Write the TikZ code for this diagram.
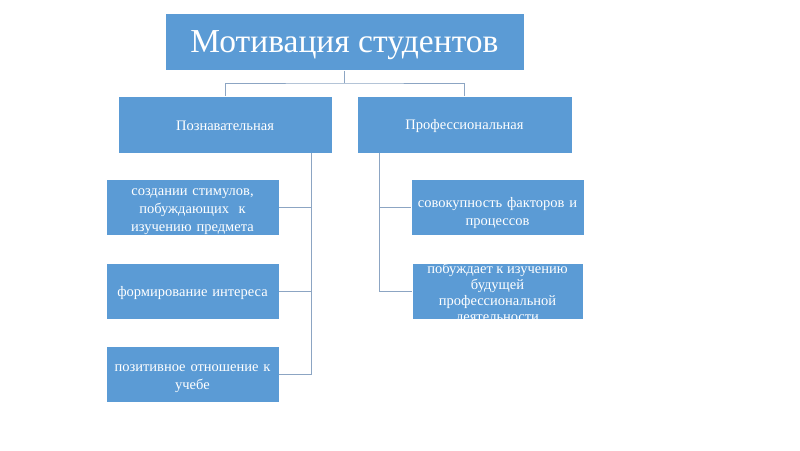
\documentclass[tikz,border=0pt]{standalone}
\usepackage{fontspec}
\setmainfont{Liberation Serif}
\newcommand{\pushdown}[1]{\rule{0pt}{#1}}
\begin{document}
\begin{tikzpicture}[x=1pt,y=-1pt,
  box/.style={draw=white, line width=0.8pt, fill=boxblue, text=white, align=center, inner sep=2pt},
  conn/.style={draw=linegray, line width=1pt}]
\definecolor{boxblue}{RGB}{91,155,213}
\definecolor{linegray}{RGB}{140,165,195}
\useasboundingbox (0,0) rectangle (800,450);
\fill[white] (0,0) rectangle (800,450);
\node[box, minimum width=359pt, minimum height=57pt, font=\fontsize{33.5}{38}\selectfont] (top) at (344.5,42) {\pushdown{29pt}Мотивация студентов};
\node[box, minimum width=214pt, minimum height=57pt, font=\fontsize{14.5}{17}\selectfont] (p1) at (225,124.5) {\pushdown{13pt}Познавательная};
\node[box, minimum width=215pt, minimum height=57pt, font=\fontsize{14.5}{17}\selectfont] (p2) at (464.5,124.5) {\pushdown{13pt}Профессиональная};
\begin{scope}[every node/.style={box, minimum width=171pt, minimum height=56pt, text width=169pt, font=\fontsize{14.5}{18}\selectfont}]
\node[inner ysep=0pt] (a1) at (192.5,207.5) {\pushdown{16pt}создании стимулов,\\ побуждающих\ \ к\\ изучению предмета};
\node (a2) at (192.5,291) {\pushdown{15pt}формирование интереса};
\node (a3) at (192.5,374) {\pushdown{17pt}позитивное отношение к\\ учебе};
\node (b1) at (497.5,207.5) {\pushdown{22pt}совокупность факторов и\\ процессов};
\end{scope}
\node[box, minimum width=171pt, minimum height=56pt] (b2) at (497.5,291) {};
\begin{scope}
\clip (b2.south west) rectangle (b2.north east);
\node[text=white, align=center, font=\fontsize{14.5}{16}\selectfont, inner sep=0pt] (b2t) at (497.5,293.5) {побуждает к изучению\\ будущей\\ профессиональной\\ деятельности};
\end{scope}
\coordinate (j) at (344.5,83);
\coordinate (lt) at (311,153);
\coordinate (rt) at (379,153);
\draw[conn] (top.south) -- (j);
\draw[conn] (p1.north) |- (j) -| (p2.north);
\draw[conn] (lt) |- (a3.east);
\draw[conn] (a1.east) -- (a1.east -| lt);
\draw[conn] (a2.east) -- (a2.east -| lt);
\draw[conn] (rt) |- (b2.west);
\draw[conn] (b1.west) -- (b1.west -| rt);
\end{tikzpicture}
\end{document}
